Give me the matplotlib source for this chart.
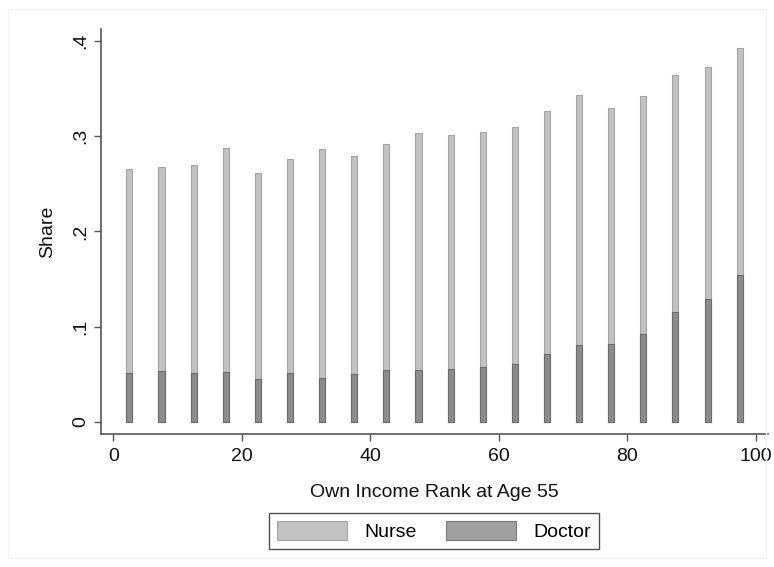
import numpy as np
import matplotlib.pyplot as plt
from matplotlib.patches import Rectangle

plt.rcParams['font.family'] = ['Liberation Sans', 'DejaVu Sans']

rank = [2.5, 7.5, 12.5, 17.5, 22.5, 27.5, 32.5, 37.5, 42.5, 47.5,
        52.5, 57.5, 62.5, 67.5, 72.5, 77.5, 82.5, 87.5, 92.5, 97.5]
nurse = [0.266, 0.268, 0.270, 0.288, 0.261, 0.276, 0.287, 0.279, 0.292, 0.303,
         0.301, 0.304, 0.310, 0.327, 0.343, 0.330, 0.342, 0.364, 0.373, 0.393]
doctor = [0.051, 0.0535, 0.051, 0.052, 0.045, 0.051, 0.0465, 0.050, 0.0546, 0.055,
          0.056, 0.058, 0.061, 0.0714, 0.0805, 0.0815, 0.0927, 0.1158, 0.1295, 0.1543]
xticks = [0, 20, 40, 60, 80, 100]
yticks = [0, 0.1, 0.2, 0.3, 0.4]
ylabels = ['0', '.1', '.2', '.3', '.4']


def main():
    fig = plt.figure(figsize=(7.74, 5.67), dpi=100)
    fig.patches.append(Rectangle((0.01, 0.015), 0.98, 0.97, transform=fig.transFigure,
                                 fill=False, edgecolor='#f2f2f2', linewidth=1))
    ax = fig.add_axes([0.1301, 0.2346, 0.8621, 0.7143])

    ax.bar(rank, nurse, width=0.95, color='#c2c2c2', edgecolor='#a4a4a4',
           linewidth=0.8, label='Nurse')
    ax.bar(rank, doctor, width=0.95, color='#8c8c8c', edgecolor='#6a6a6a',
           linewidth=0.8, label='Doctor')

    ax.set_xlim(-1.96, 101.9)
    ax.set_ylim(-0.0126, 0.4126)
    ax.set_xticks(xticks)
    ax.set_yticks(yticks)
    ax.set_yticklabels(ylabels, rotation=90, va='center')
    ax.tick_params(axis='both', labelsize=14, length=5, width=1, color='#555555',
                   labelcolor='#111111')
    ax.tick_params(axis='x', pad=5)
    ax.tick_params(axis='y', pad=3)

    for side in ['top', 'right']:
        ax.spines[side].set_visible(False)
    for side in ['left', 'bottom']:
        ax.spines[side].set_color('#555555')
        ax.spines[side].set_linewidth(1.2)

    ax.set_xlabel('Own Income Rank at Age 55', fontsize=14, labelpad=14, color='#111111')
    ax.set_ylabel('Share', fontsize=14, labelpad=12, color='#111111')

    leg = fig.legend(loc='center', bbox_to_anchor=(0.5607, 0.0635), ncol=2,
                     fontsize=14, frameon=True, fancybox=False, handlelength=3.6,
                     handleheight=1.1, columnspacing=1.5, borderpad=0.4,
                     handletextpad=0.9)
    leg.get_frame().set_edgecolor('#222222')
    leg.get_frame().set_linewidth(1.0)
    leg.legend_handles[1].set_facecolor('#a0a0a0')
    leg.legend_handles[1].set_edgecolor('#7a7a7a')

    fig.savefig('out.png', dpi=100)


if __name__ == "__main__":
    main()
